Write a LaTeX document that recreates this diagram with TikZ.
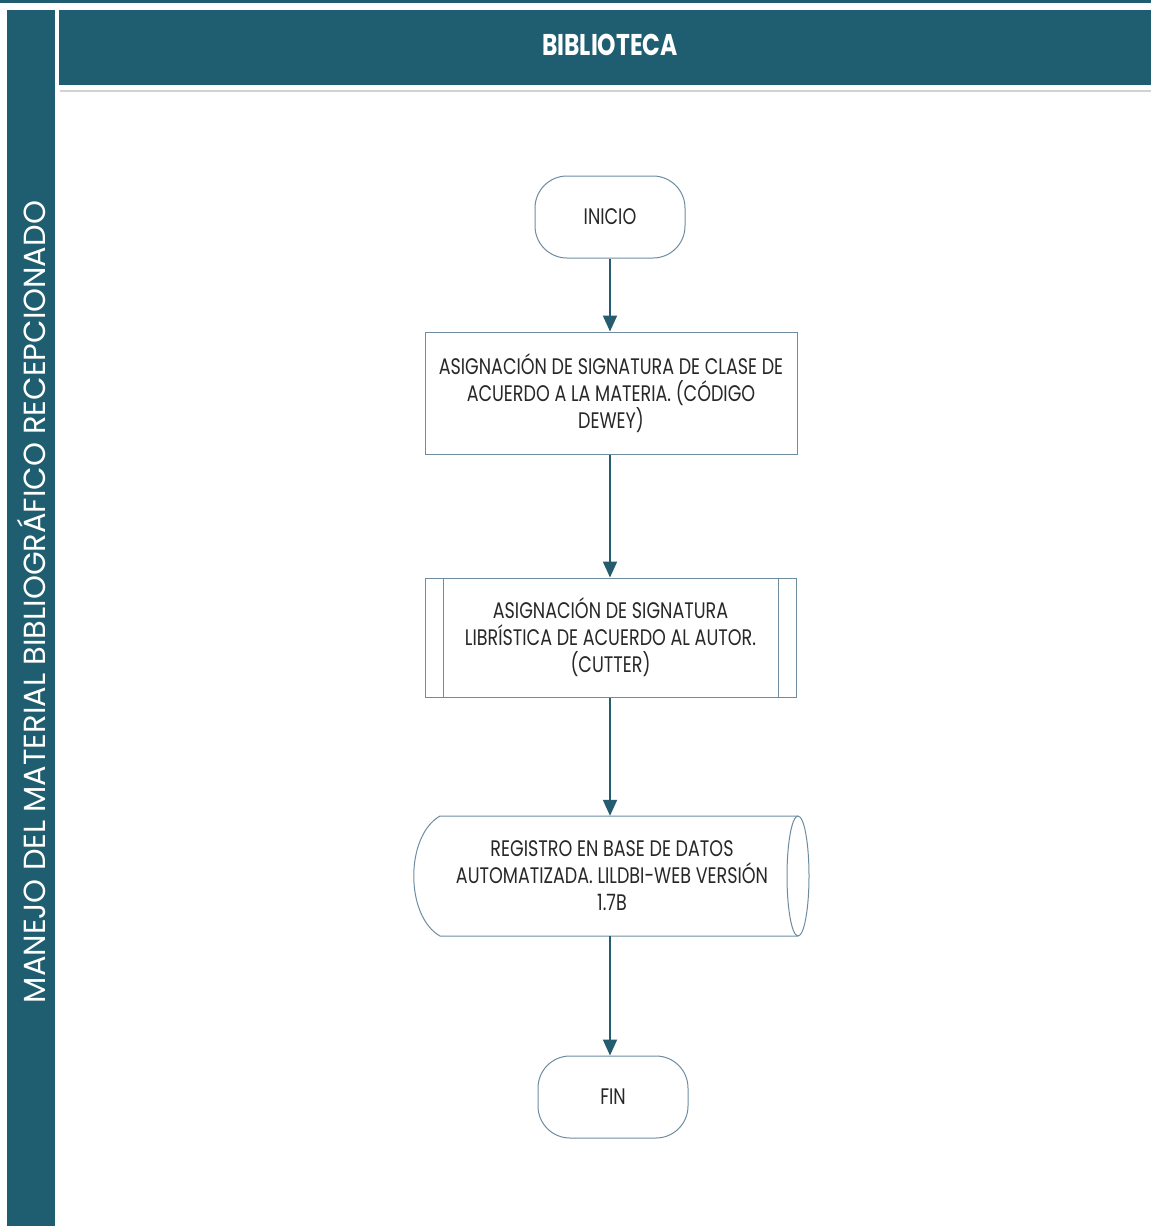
\documentclass[tikz,border=0pt]{standalone}
\usepackage{fontspec}
\setmainfont{Poppins}
\newfontfamily\boxfont[FakeStretch=0.78]{Poppins}
\usetikzlibrary{arrows.meta}
\definecolor{tealbar}{RGB}{31,94,112}
\definecolor{arrowteal}{RGB}{38,92,112}
\definecolor{boxline}{RGB}{110,140,160}
\definecolor{txt}{RGB}{40,40,40}
\tikzset{
  flowtext/.style={text=txt, font=\boxfont\fontsize{22.5}{27}\selectfont, align=center, inner sep=0pt},
  terminal/.style={flowtext, draw=boxline, line width=1pt, rounded corners=32pt, minimum width=150pt, minimum height=82pt},
  procbox/.style={flowtext, draw=boxline, line width=1pt, minimum width=372pt, minimum height=122pt},
  predbox/.style={flowtext, draw=boxline, line width=1pt, minimum width=371pt, minimum height=119pt},
  flowarrow/.style={draw=arrowteal, line width=2pt, -{Triangle[width=14pt,length=16pt]}}
}
\begin{document}
\begin{tikzpicture}[x=1pt,y=-1pt]
\useasboundingbox (0,0) rectangle (1151,1226);
\fill[white] (0,0) rectangle (1151,1226);
\fill[tealbar] (0,0) rectangle (1151,3);
\fill[tealbar] (7,10) rectangle (55,1226);
\fill[tealbar] (59,10) rectangle (1151,85);
\draw[gray!35, line width=1.5pt] (60,91) -- (1151,91);
\node[text=white, font=\boxfont\bfseries\fontsize{30}{34}\selectfont, inner sep=0pt] (title) at (610,45) {BIBLIOTECA};
\node[rotate=90, text=white, font=\fontsize{30.5}{34}\selectfont, inner sep=0pt] (lane) at (31,602) {MANEJO DEL MATERIAL BIBLIOGRÁFICO RECEPCIONADO};

\node[terminal] (inicio) at (610,217) {INICIO};
\node[procbox] (p1) at (611,393) {ASIGNACIÓN DE SIGNATURA DE CLASE DE\\ACUERDO A LA MATERIA. (CÓDIGO\\DEWEY)};
\node[predbox] (p2) at (610.5,637.5) {ASIGNACIÓN DE SIGNATURA\\LIBRÍSTICA DE ACUERDO AL AUTOR.\\(CUTTER)};
\draw[boxline, line width=1pt] (443,578) -- (443,697);
\draw[boxline, line width=1pt] (778,578) -- (778,697);
% stored data shape
\draw[boxline, line width=1pt] (440,816) -- (798,816)
   arc[start angle=-90, end angle=90, x radius=11, y radius=60]
   -- (440,936)
   .. controls (405,916) and (405,836) .. (440,816);
\draw[boxline, line width=1pt] (798,816) arc[start angle=-90, end angle=-270, x radius=11, y radius=60];
\node[flowtext, minimum width=358pt, minimum height=120pt] (s3) at (612,876) {REGISTRO EN BASE DE DATOS\\AUTOMATIZADA. LILDBI-WEB VERSIÓN\\1.7B};
\node[terminal] (fin) at (613,1097) {FIN};

\draw[flowarrow] (inicio.south) -- (inicio.south |- p1.north);
\draw[flowarrow] (p1.south -| inicio.south) -- (inicio.south |- p2.north);
\draw[flowarrow] (p2.south -| inicio.south) -- (inicio.south |- s3.north);
\draw[flowarrow] (s3.south -| inicio.south) -- (inicio.south |- fin.north);
\end{tikzpicture}
\end{document}
